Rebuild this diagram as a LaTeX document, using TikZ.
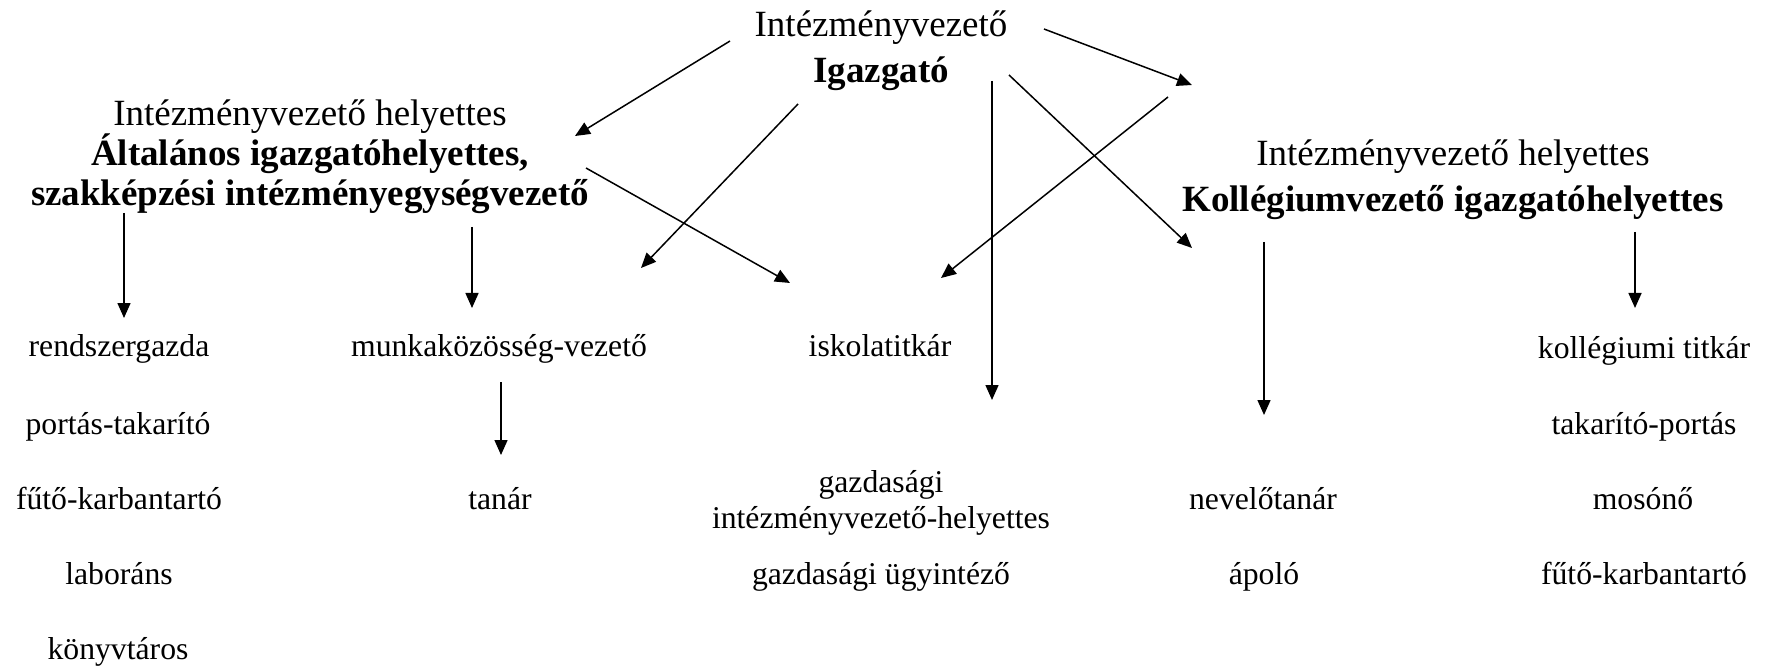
\documentclass[tikz,border=0pt]{standalone}
\usepackage{fontspec}
\setmainfont{Liberation Serif}
\usetikzlibrary{arrows.meta}
\tikzset{
  big/.style={font=\fontsize{37}{40}\selectfont, align=center, inner sep=0pt},
  bigwide/.style={font=\fontsize{37}{46}\selectfont, align=center, inner sep=0pt},
  small/.style={font=\fontsize{31.7}{36}\selectfont, align=center, inner sep=0pt, anchor=mid},
  conn/.style={line width=1.5pt, -{Triangle[length=15pt,width=13pt]}}
}
\begin{document}
\begin{tikzpicture}[x=1pt,y=-1pt]
\useasboundingbox (0,0) rectangle (1769,668);
% heads
\node[bigwide] (top) at (881,51) {Intézményvezető\\\textbf{Igazgató}};
\node[big] (left) at (310,157) {Intézményvezető helyettes\\\textbf{Általános igazgatóhelyettes,}\\\textbf{szakképzési intézményegységvezető}};
\node[bigwide] (right) at (1453,180) {Intézményvezető helyettes\\\textbf{Kollégiumvezető igazgatóhelyettes}};
% column 1
\node[small] (rg) at (119,354) {rendszergazda};
\node[small] (pt) at (118,432) {portás-takarító};
\node[small] (fk1) at (119,507) {fűtő-karbantartó};
\node[small] (lab) at (119,582) {laboráns};
\node[small] (kv) at (118,657) {könyvtáros};
% column 2
\node[small] (mkv) at (499,354) {munkaközösség-vezető};
\node[small] (tan) at (500,507) {tanár};
% column 3
\node[small] (it) at (880,354) {iskolatitkár};
\node[small, anchor=center] (gih) at (881,503) {gazdasági\\intézményvezető-helyettes};
\node[small] (gu) at (881,582) {gazdasági ügyintéző};
% column 4
\node[small] (nt) at (1263,507) {nevelőtanár};
\node[small] (ap) at (1264,582) {ápoló};
% column 5
\node[small] (kt) at (1644,356) {kollégiumi titkár};
\node[small] (tp) at (1644,432) {takarító-portás};
\node[small] (mo) at (1643,507) {mosónő};
\node[small] (fk2) at (1644,582) {fűtő-karbantartó};
% connector ends
\coordinate (a1) at (730,41);  \coordinate (a2) at (575,136);
\coordinate (b1) at (798,104); \coordinate (b2) at (641,268);
\coordinate (c1) at (586,168); \coordinate (c2) at (790,283);
\coordinate (v1) at (992,81);  \coordinate (v2) at (992,400);
\coordinate (d1) at (1009,75); \coordinate (d2) at (1192,248);
\coordinate (e1) at (1044,29); \coordinate (e2) at (1192,85);
\coordinate (f1) at (1168,97); \coordinate (f2) at (941,278);
\coordinate (l11) at (124,213); \coordinate (l12) at (124,318);
\coordinate (l21) at (472,227); \coordinate (l22) at (472,308);
\coordinate (m1) at (501,382); \coordinate (m2) at (501,455);
\coordinate (r11) at (1264,242); \coordinate (r12) at (1264,415);
\coordinate (r21) at (1635,232); \coordinate (r22) at (1635,308);
\draw[conn] (a1) -- (a2);
\draw[conn] (b1) -- (b2);
\draw[conn] (c1) -- (c2);
\draw[conn] (v1) -- (v2);
\draw[conn] (d1) -- (d2);
\draw[conn] (e1) -- (e2);
\draw[conn] (f1) -- (f2);
\draw[conn] (l11) -- (l12);
\draw[conn] (l21) -- (l22);
\draw[conn] (m1) -- (m2);
\draw[conn] (r11) -- (r12);
\draw[conn] (r21) -- (r22);
\end{tikzpicture}
\end{document}
